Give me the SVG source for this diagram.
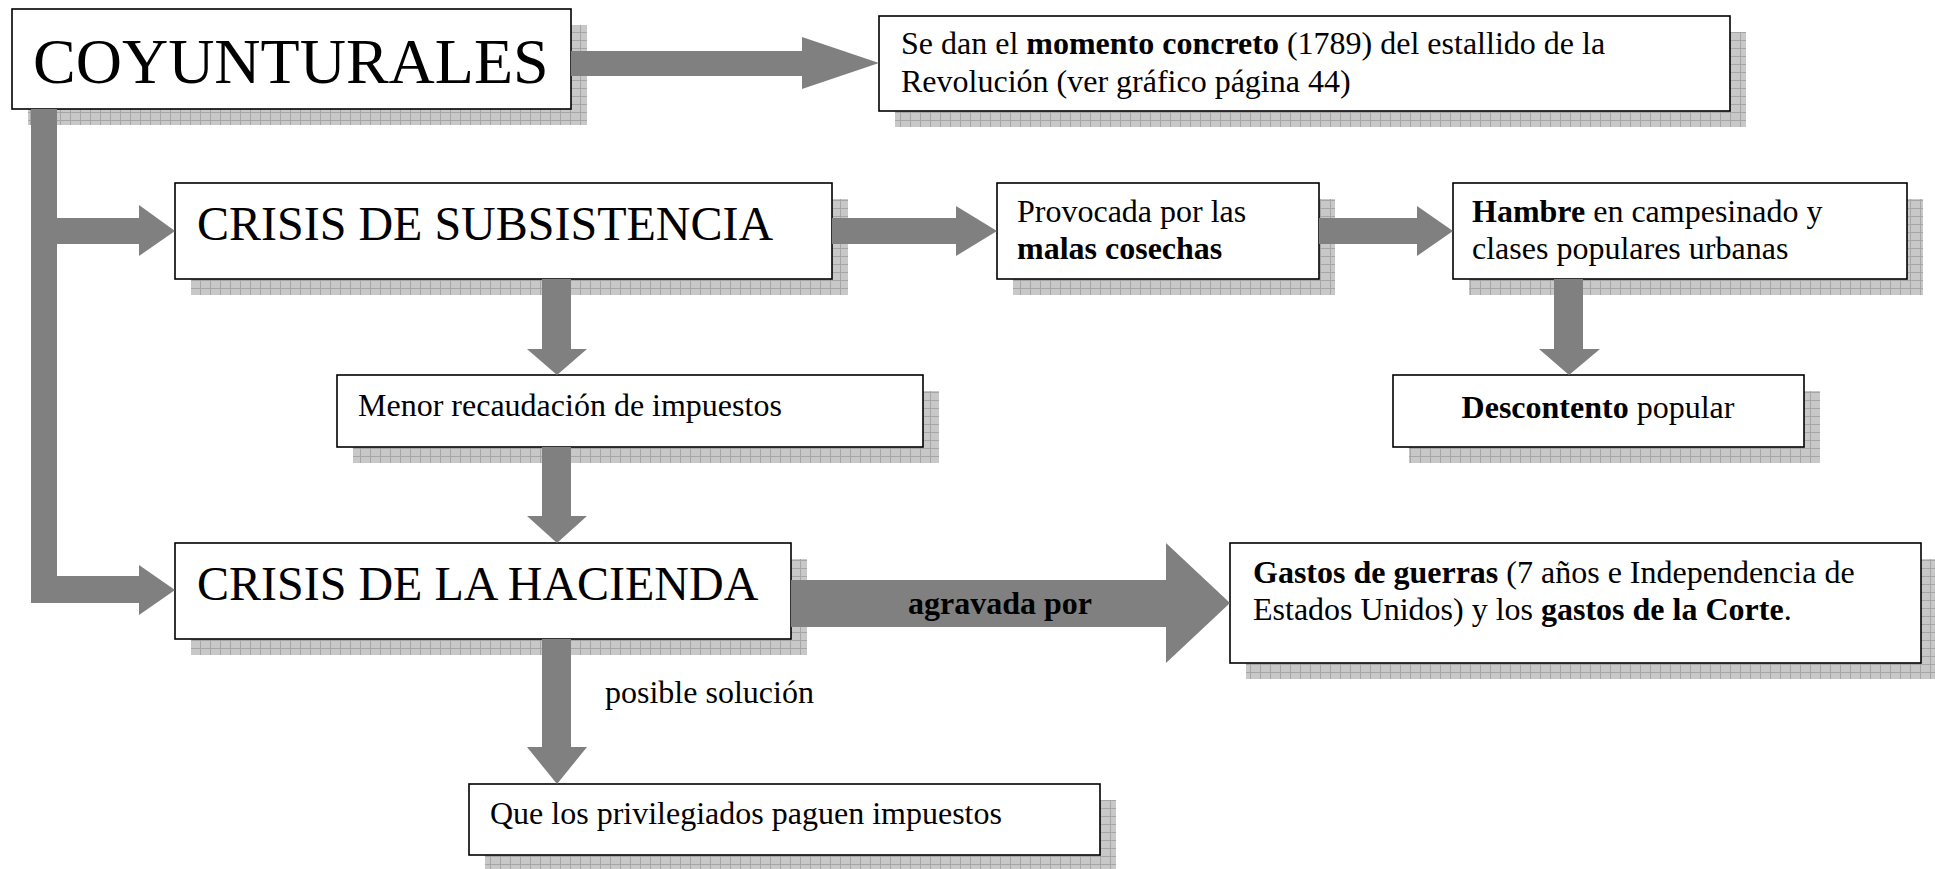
<svg xmlns="http://www.w3.org/2000/svg" width="1935" height="869" viewBox="0 0 1935 869">
<defs>
<pattern id="grid" width="10" height="8" patternUnits="userSpaceOnUse">
<rect width="10" height="8" fill="#c8c8c8"/>
<path d="M0 0.5H10M0.5 0V8" stroke="#a6a6a6" stroke-width="1"/>
</pattern>
</defs>
<style>
.sh{fill:url(#grid)}
.bx{fill:#fff;stroke:#000;stroke-width:1.6}
.t{font-family:"Liberation Serif","Times New Roman",serif;fill:#000}
.b{font-weight:bold}
.s32{font-size:32px}
.s48{font-size:48px}
.s64{font-size:64px}
.ar{fill:#808080;stroke:none}
</style>
<g id="n-coyunturales">
<rect class="sh" x="28" y="25" width="559" height="100"/>
<rect class="bx" x="12" y="9" width="559" height="100"/>
<text class="t s64" x="33" y="83">COYUNTURALES</text>
</g>
<g id="n-momento">
<rect class="sh" x="895" y="32" width="851" height="95"/>
<rect class="bx" x="879" y="16" width="851" height="95"/>
<text class="t s32" x="901" y="54">Se dan el <tspan class="b">momento concreto</tspan> (1789) del estallido de la</text>
<text class="t s32" x="901" y="92">Revolución (ver gráfico página 44)</text>
</g>
<g id="n-subsistencia">
<rect class="sh" x="191" y="199" width="657" height="96"/>
<rect class="bx" x="175" y="183" width="657" height="96"/>
<text class="t s48" x="197" y="240">CRISIS DE SUBSISTENCIA</text>
</g>
<g id="n-provocada">
<rect class="sh" x="1013" y="199" width="322" height="96"/>
<rect class="bx" x="997" y="183" width="322" height="96"/>
<text class="t s32" x="1017" y="222">Provocada por las</text>
<text class="t s32 b" x="1017" y="259">malas cosechas</text>
</g>
<g id="n-hambre">
<rect class="sh" x="1469" y="199" width="454" height="96"/>
<rect class="bx" x="1453" y="183" width="454" height="96"/>
<text class="t s32" x="1472" y="222"><tspan class="b">Hambre</tspan> en campesinado y</text>
<text class="t s32" x="1472" y="259">clases populares urbanas</text>
</g>
<g id="n-descontento">
<rect class="sh" x="1409" y="391" width="411" height="72"/>
<rect class="bx" x="1393" y="375" width="411" height="72"/>
<text class="t s32" x="1598" y="418" text-anchor="middle"><tspan class="b">Descontento</tspan> popular</text>
</g>
<g id="n-menor">
<rect class="sh" x="353" y="391" width="586" height="72"/>
<rect class="bx" x="337" y="375" width="586" height="72"/>
<text class="t s32" x="358" y="416">Menor recaudación de impuestos</text>
</g>
<g id="n-hacienda">
<rect class="sh" x="191" y="559" width="616" height="96"/>
<rect class="bx" x="175" y="543" width="616" height="96"/>
<text class="t s48" x="197" y="600">CRISIS DE LA HACIENDA</text>
</g>
<g id="n-gastos">
<rect class="sh" x="1246" y="559" width="691" height="120"/>
<rect class="bx" x="1230" y="543" width="691" height="120"/>
<text class="t s32" x="1253" y="583"><tspan class="b">Gastos de guerras</tspan> (7 años e Independencia de</text>
<text class="t s32" x="1253" y="620">Estados Unidos) y los <tspan class="b">gastos de la Corte</tspan>.</text>
</g>
<g id="n-privilegiados">
<rect class="sh" x="485" y="800" width="631" height="71"/>
<rect class="bx" x="469" y="784" width="631" height="71"/>
<text class="t s32" x="490" y="824">Que los privilegiados paguen impuestos</text>
</g>
<g id="connectors">
<polygon class="ar" points="571,51 802,51 802,37 879,63 802,89 802,76 571,76"/>
<polygon class="ar" points="31,109 57,109 57,218 139,218 139,205 175,231 139,256 139,244 57,244 57,576 139,576 139,565 175,590 139,615 139,603 31,603"/>
<polygon class="ar" points="832,218 956,218 956,206 997,231 956,256 956,244 832,244"/>
<polygon class="ar" points="1319,218 1417,218 1417,206 1453,231 1417,256 1417,244 1319,244"/>
<polygon class="ar" points="1554,279 1583,279 1583,349 1600,349 1569,375 1539,349 1554,349"/>
<polygon class="ar" points="542,279 571,279 571,349 587,349 557,375 527,349 542,349"/>
<polygon class="ar" points="542,447 571,447 571,516 587,516 557,543 527,516 542,516"/>
<polygon class="ar" points="542,639 571,639 571,747 587,747 557,784 527,747 542,747"/>
<polygon class="ar" points="791,580 1166,580 1166,543 1230,603 1166,663 1166,627 791,627"/>
<text class="t s32 b" x="1000" y="614" text-anchor="middle">agravada por</text>
<text class="t s32" x="605" y="703">posible solución</text>
</g>
</svg>
